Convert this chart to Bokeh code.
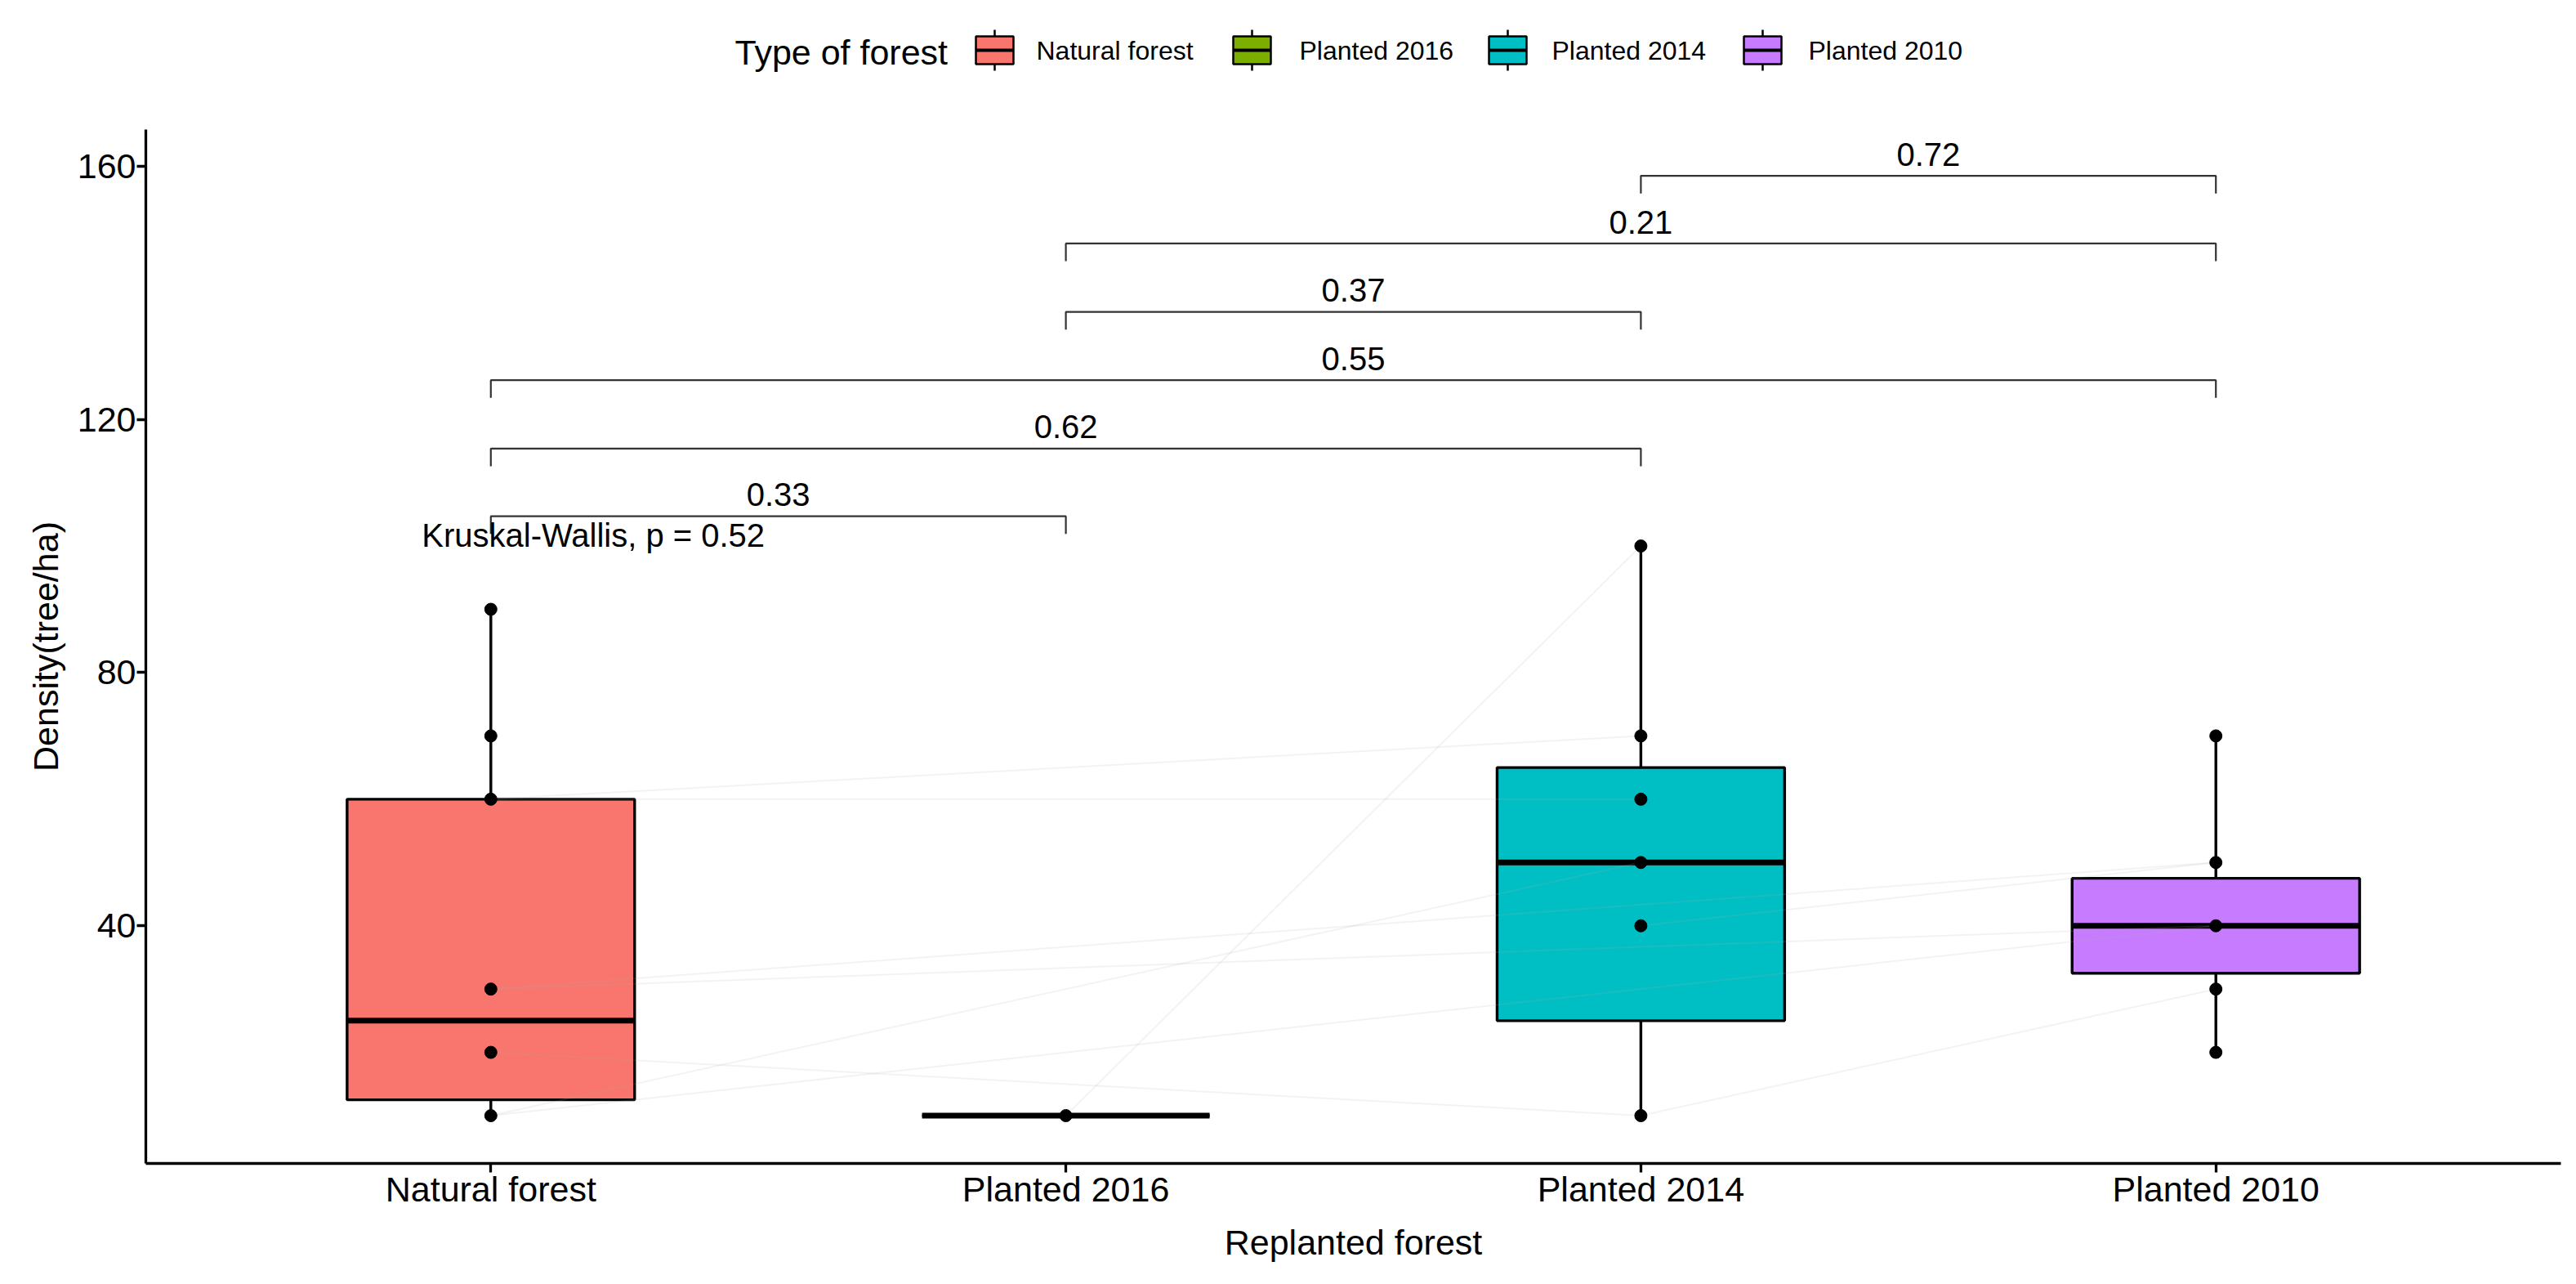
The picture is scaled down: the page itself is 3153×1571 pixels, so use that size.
from bokeh.plotting import figure
from bokeh.models import Range1d, FixedTicker
from bokeh.layouts import column
from bokeh.core.properties import value
from bokeh.embed import file_html
from bokeh.resources import INLINE

# ---------------- data ----------------
categories = ["Natural forest", "Planted 2016", "Planted 2014", "Planted 2010"]
colors = ["#F8766D", "#7CAE00", "#00BFC4", "#C77CFF"]

q1 = [12.5, 10, 25, 32.5]
median = [25, 10, 50, 40]
q3 = [60, 10, 65, 47.5]
whisker_low = [10, 10, 10, 20]
whisker_high = [90, 10, 100, 70]

points_natural = [10, 20, 30, 60, 70, 90]
points_2016 = [10]
points_2014 = [10, 40, 50, 60, 70, 100]
points_2010 = [20, 30, 40, 50, 70]

# faint paired-observation lines (from group, value) -> (to group, value)
pair_from_cat = ["Natural forest", "Natural forest", "Planted 2016", "Natural forest", "Natural forest",
                 "Natural forest", "Planted 2014", "Planted 2014", "Natural forest", "Natural forest"]
pair_from_val = [60, 60, 10, 30, 20, 10, 40, 10, 10, 30]
pair_to_cat = ["Planted 2014", "Planted 2014", "Planted 2014", "Planted 2010", "Planted 2014",
               "Planted 2010", "Planted 2010", "Planted 2010", "Planted 2014", "Planted 2010"]
pair_to_val = [70, 60, 100, 40, 10, 40, 50, 30, 50, 50]

# pairwise comparison brackets
bracket_group1 = ["Natural forest", "Natural forest", "Natural forest", "Planted 2016", "Planted 2016", "Planted 2014"]
bracket_group2 = ["Planted 2016", "Planted 2014", "Planted 2010", "Planted 2014", "Planted 2010", "Planted 2010"]
bracket_y = [104.7, 115.4, 126.2, 137.0, 147.8, 158.5]
bracket_label = ["0.33", "0.62", "0.55", "0.37", "0.21", "0.72"]

kruskal_text = "Kruskal-Wallis, p = 0.52"
kruskal_x = 0.88
kruskal_y = 101.7

y_ticks = [40, 80, 120, 160]

FONT = "Liberation Sans"
W = 3145
LEG_H = 158
MAIN_H = 1405
BL, BR = 178, 11

pos = {c: i + 1 for i, c in enumerate(categories)}
xs = [pos[c] for c in categories]

# ---------------- main plot ----------------
p = figure(width=W, height=MAIN_H, x_range=Range1d(0.4, 4.6), y_range=Range1d(2.45, 165.8),
           output_backend="svg", toolbar_location=None,
           min_border_left=BL, min_border_right=BR, min_border_top=0, min_border_bottom=140)
p.xgrid.visible = False
p.ygrid.visible = False
p.outline_line_color = None
p.background_fill_color = "white"
p.border_fill_color = "white"

# whiskers
p.segment(x0=xs, y0=q3, x1=xs, y1=whisker_high, line_color="black", line_width=3.4)
p.segment(x0=xs, y0=whisker_low, x1=xs, y1=q1, line_color="black", line_width=3.4)
# boxes
p.vbar(x=xs, width=0.5, bottom=q1, top=q3, fill_color=colors, line_color="black", line_width=3.4)
# medians
p.segment(x0=[x - 0.25 for x in xs], x1=[x + 0.25 for x in xs], y0=median, y1=median,
          line_color="black", line_width=7)

# faint paired lines
p.segment(x0=[pos[c] for c in pair_from_cat], y0=pair_from_val,
          x1=[pos[c] for c in pair_to_cat], y1=pair_to_val,
          line_color="#b0b0b0", line_alpha=0.15, line_width=2)

# points
all_pts = [points_natural, points_2016, points_2014, points_2010]
px, py = [], []
for c, vals in zip(categories, all_pts):
    for v in vals:
        px.append(pos[c])
        py.append(v)
p.scatter(x=px, y=py, size=15, fill_color="black", line_color="black")

# brackets
TIP = 2.8
bxs, bys = [], []
for g1, g2, y in zip(bracket_group1, bracket_group2, bracket_y):
    x1, x2 = pos[g1], pos[g2]
    bxs.append([x1, x1, x2, x2])
    bys.append([y - TIP, y, y, y - TIP])
p.multi_line(xs=bxs, ys=bys, line_color="#333333", line_width=2.2)
p.text(x=[(pos[a] + pos[b]) / 2 for a, b in zip(bracket_group1, bracket_group2)],
       y=[y + 3.4 for y in bracket_y], text=bracket_label,
       text_font=value(FONT), text_font_size=value("40px"), text_color="black",
       text_align="center", text_baseline="middle")

p.text(x=[kruskal_x], y=[kruskal_y], text=[kruskal_text],
       text_font=value(FONT), text_font_size=value("40px"), text_color="black",
       text_align="left", text_baseline="middle")

# axes
p.yaxis.ticker = FixedTicker(ticks=y_ticks)
p.xaxis.ticker = FixedTicker(ticks=xs)
p.xaxis.major_label_overrides = {x: c for x, c in zip(xs, categories)}
p.xaxis.axis_label = "Replanted forest"
p.yaxis.axis_label = "Density(tree/ha)"
for ax in [p.xaxis[0], p.yaxis[0]]:
    ax.axis_line_color = "black"
    ax.axis_line_width = 3.3
    ax.major_tick_line_color = "black"
    ax.major_tick_line_width = 3.3
    ax.major_tick_out = 11
    ax.major_tick_in = 0
    ax.minor_tick_out = 0
    ax.minor_tick_in = 0
    ax.major_label_text_font = FONT
    ax.major_label_text_font_size = "43px"
    ax.major_label_text_color = "black"
    ax.axis_label_text_font = FONT
    ax.axis_label_text_font_size = "43px"
    ax.axis_label_text_font_style = "normal"
    ax.axis_label_text_color = "black"
p.xaxis.major_label_standoff = -4
p.yaxis.major_label_standoff = 1
p.xaxis.axis_label_standoff = 14
p.yaxis.axis_label_standoff = 12

# ---------------- legend (separate strip above, frame aligned with main frame) ----------------
lg = figure(width=W, height=LEG_H, x_range=Range1d(BL, W - BR), y_range=Range1d(0, LEG_H),
            x_axis_type=None, y_axis_type=None,
            output_backend="svg", toolbar_location=None,
            min_border_left=BL, min_border_right=BR, min_border_top=0, min_border_bottom=0)
lg.xgrid.visible = False
lg.ygrid.visible = False
lg.outline_line_color = None

key_x = [1217, 1532, 1845, 2157]
label_x = [1268, 1590, 1899, 2213]
KY = 97
lg.segment(x0=key_x, y0=[KY + 17] * 4, x1=key_x, y1=[KY + 25] * 4, line_color="black", line_width=2.5)
lg.segment(x0=key_x, y0=[KY - 17] * 4, x1=key_x, y1=[KY - 25] * 4, line_color="black", line_width=2.5)
lg.rect(x=key_x, y=[KY] * 4, width=46, height=34, fill_color=colors, line_color="black", line_width=2.5)
lg.segment(x0=[k - 23 for k in key_x], x1=[k + 23 for k in key_x], y0=[KY] * 4, y1=[KY] * 4,
           line_color="black", line_width=4)
lg.text(x=label_x, y=[KY] * 4, text=categories, text_font=value(FONT), text_font_size=value("32px"),
        text_color="black", text_align="left", text_baseline="middle")
lg.text(x=[899], y=[KY - 2], text=["Type of forest"], text_font=value(FONT), text_font_size=value("43px"),
        text_color="black", text_align="left", text_baseline="middle")

layout = column(lg, p)
open("out.html", "w").write(file_html(layout, INLINE))
